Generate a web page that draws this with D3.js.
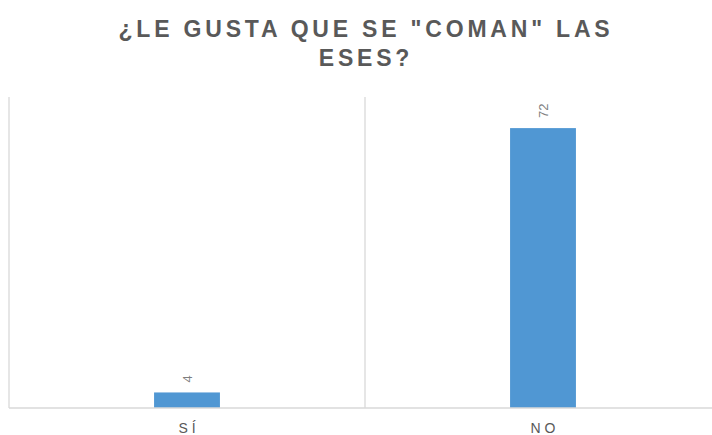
<!DOCTYPE html>
<html>
<head>
<meta charset="utf-8">
<script src="https://cdn.jsdelivr.net/npm/d3@7"></script>
<style>
  html, body { margin: 0; padding: 0; background: #fff; }
  svg { display: block; }
</style>
</head>
<body>
<script>
const categories = ["SÍ", "NO"];
const values = [4, 72];
const titleLines = ["¿LE GUSTA QUE SE \"COMAN\" LAS", "ESES?"];

const W = 712, H = 435;
const plot = { left: 9, right: 721, top: 97, bottom: 408 };

const svg = d3.select("body").append("svg")
  .attr("width", W).attr("height", H);

const x = d3.scaleBand().domain(categories)
  .range([plot.left, plot.right]).paddingInner(0).paddingOuter(0);
const y = d3.scaleLinear().domain([0, 80]).range([plot.bottom, plot.top]);

// category separators
const gridColor = "#d9d9d9";
const seps = [plot.left].concat(categories.map(c => x(c) + x.bandwidth()));
svg.selectAll("line.sep").data(seps).enter().append("line")
  .attr("x1", d => d).attr("x2", d => d)
  .attr("y1", plot.top).attr("y2", plot.bottom)
  .attr("stroke", gridColor).attr("stroke-width", 1.3);

// bars
const barW = x.bandwidth() * 0.185;
svg.selectAll("rect.bar").data(values).enter().append("rect")
  .attr("x", (d, i) => x(categories[i]) + x.bandwidth() / 2 - barW / 2)
  .attr("y", d => y(d))
  .attr("width", barW)
  .attr("height", d => y(0) - y(d))
  .attr("fill", "#5097d3");

// baseline
svg.append("line")
  .attr("x1", plot.left).attr("x2", plot.right)
  .attr("y1", plot.bottom).attr("y2", plot.bottom)
  .attr("stroke", gridColor).attr("stroke-width", 1.3);

// value labels, rotated
svg.selectAll("text.val").data(values).enter().append("text")
  .attr("transform", (d, i) => {
    const cx = x(categories[i]) + x.bandwidth() / 2;
    return `translate(${cx + 4.5},${y(d) - 10}) rotate(-90)`;
  })
  .attr("text-anchor", "start")
  .attr("font-family", "Liberation Sans, Arial, sans-serif")
  .attr("font-size", 13)
  .attr("fill", "#7f7f7f")
  .text(d => d);

// category labels
svg.selectAll("text.cat").data(categories).enter().append("text")
  .attr("x", d => x(d) + x.bandwidth() / 2 + 2)
  .attr("y", 433)
  .attr("text-anchor", "middle")
  .attr("font-family", "Liberation Sans, Arial, sans-serif")
  .attr("font-size", 14)
  .attr("letter-spacing", 4)
  .attr("fill", "#595959")
  .text(d => d);

// title
svg.selectAll("text.title").data(titleLines).enter().append("text")
  .attr("x", 366)
  .attr("y", (d, i) => 37 + i * 29)
  .attr("text-anchor", "middle")
  .attr("font-family", "Liberation Sans, Arial, sans-serif")
  .attr("font-size", 23)
  .attr("font-weight", "bold")
  .attr("letter-spacing", 3.8)
  .attr("fill", "#595959")
  .text(d => d);
</script>
</body>
</html>
